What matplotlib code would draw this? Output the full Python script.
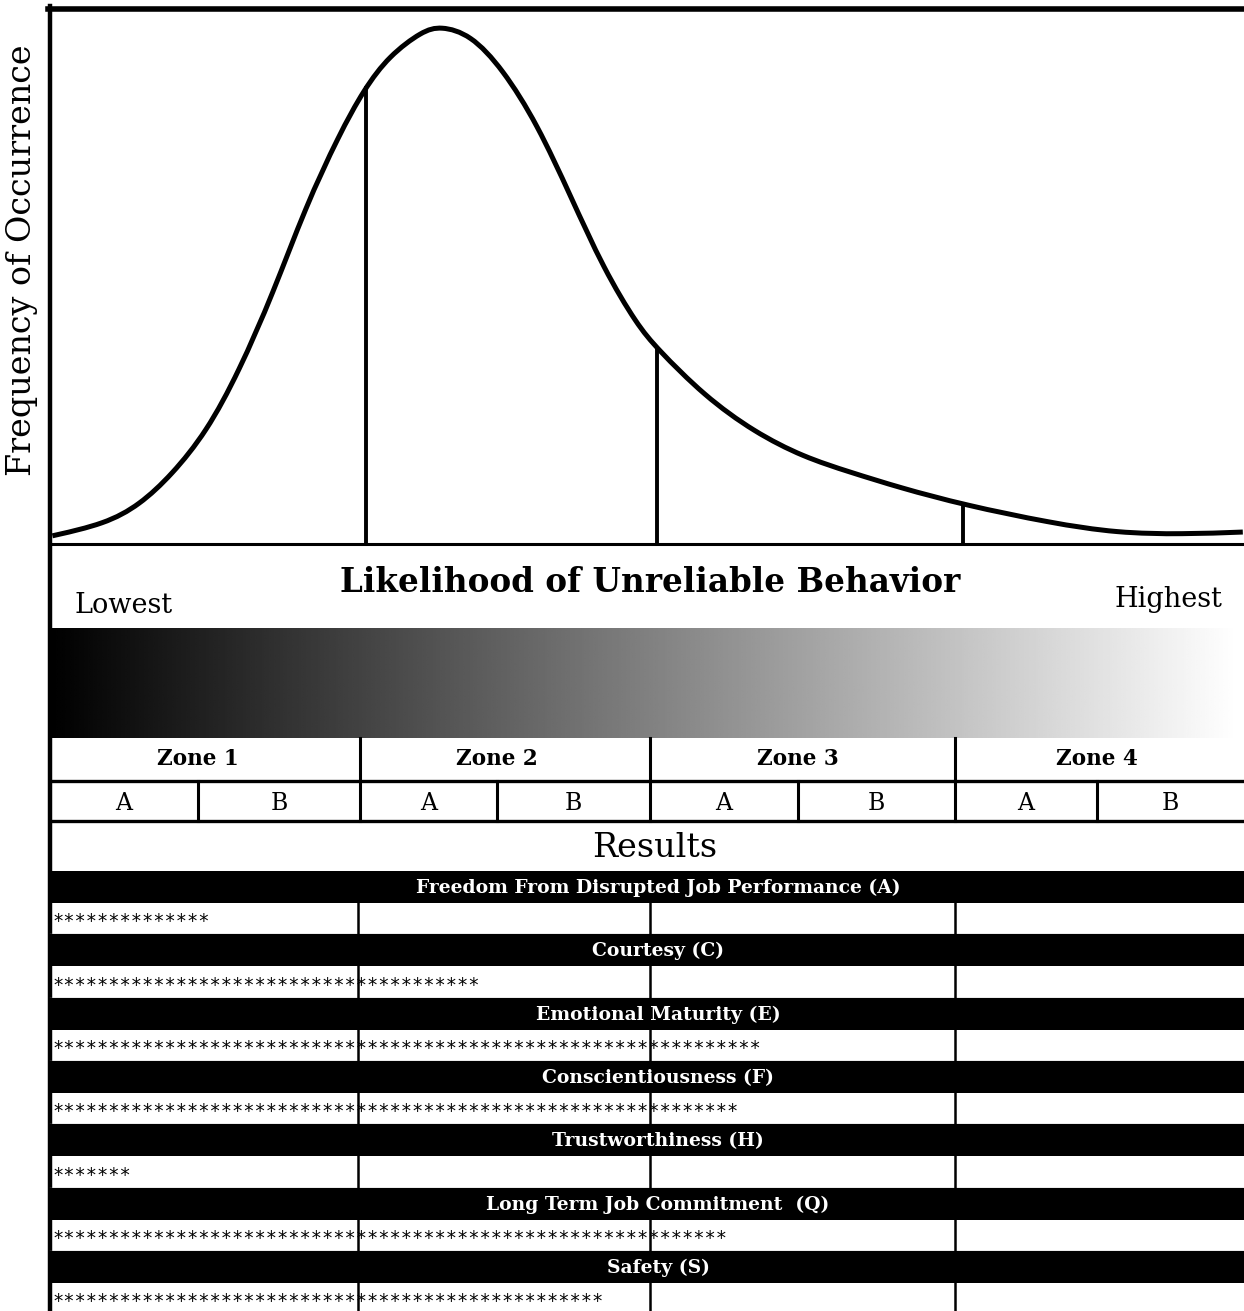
import numpy as np
import matplotlib.pyplot as plt
from matplotlib.path import Path
from matplotlib.patches import PathPatch

# distribution curve (likelihood 0-100, frequency 0-100)
likelihood = [0.2, 4.6, 7.5, 10.2, 13.1, 15.8, 18.7, 21.4, 24.2, 26.3, 28.4, 31.2,
              32.7, 35.2, 37.9, 40.8, 43.6, 46.4, 49.2, 50.8, 54.8, 59.0,
              63.1, 67.0, 71.2, 76.6, 83.8, 89.4, 94.9, 99.9]
frequency = [1.7, 3.9, 7.4, 13.0, 20.9, 32.0, 46.7, 62.6, 75.9, 84.4, 90.6, 95.2,
             96.1, 94.6, 88.2, 78.0, 64.6, 51.0, 40.7, 36.5, 27.6, 20.9,
             16.3, 13.5, 10.6, 7.4, 4.1, 2.2, 2.0, 2.4]
cut_points = [26.5, 50.8, 76.5]

zones = ['Zone 1', 'Zone 2', 'Zone 3', 'Zone 4']
sub_zones = ['A', 'B']
scales = ['Freedom From Disrupted Job Performance (A)', 'Courtesy (C)',
          'Emotional Maturity (E)', 'Conscientiousness (F)', 'Trustworthiness (H)',
          'Long Term Job Commitment  (Q)', 'Safety (S)']
stars = [14, 38, 63, 61, 7, 60, 49]

W, H = 1244, 1311
SERIF = 'DejaVu Serif'

fig = plt.figure(figsize=(W / 100, H / 100), dpi=100)

# layout axes in pixel units
ax = fig.add_axes([0, 0, 1, 1])
ax.set_xlim(0, W)
ax.set_ylim(H, 0)
ax.axis('off')

# curve axes
axc = fig.add_axes([50 / W, (H - 545) / H, 1194 / W, 540 / H])
axc.set_xlim(0, 100)
axc.set_ylim(0, 100)
axc.axis('off')
axc.patch.set_alpha(0)

# smooth line through the read points (cubic b-spline drawn as bezier segments)
pts = np.column_stack([likelihood, frequency])
cp = np.vstack([pts[0], pts[0], pts, pts[-1], pts[-1]])
verts = [pts[0]]
codes = [Path.MOVETO]
for i in range(1, len(cp) - 2):
    a, b, c, d = cp[i - 1], cp[i], cp[i + 1], cp[i + 2]
    verts += [(2 * b + c) / 3, (b + 2 * c) / 3, (b + 4 * c + d) / 6]
    codes += [Path.CURVE4] * 3
axc.add_patch(PathPatch(Path(verts, codes), fill=False, edgecolor='black', lw=3.6,
                        clip_on=False, capstyle='butt'))
for c in cut_points:
    axc.vlines(c, 0, np.interp(c, likelihood, frequency), color='black', lw=2.8)

# frame
ax.plot([50, 50], [6, H], color='black', lw=3.2)
ax.plot([48, W], [9, 9], color='black', lw=4)
ax.plot([50, W], [544, 544], color='black', lw=2.2)

ax.text(22, 260, 'Frequency of Occurrence', rotation=90, ha='center', va='center',
        fontsize=24, family=SERIF)

# title row
ax.text(650, 592, 'Likelihood of Unreliable Behavior', ha='center', va='baseline',
        fontsize=23.5, fontweight='bold', family=SERIF)
ax.text(75, 613, 'Lowest', ha='left', va='baseline', fontsize=19.5, family=SERIF)
ax.text(1222, 607, 'Highest', ha='right', va='baseline', fontsize=19.5, family=SERIF)

# gradient bar
grad = np.linspace(0, 1, 512).reshape(1, -1)
ax.imshow(grad, cmap='gray', aspect='auto', extent=[50, 1236, 738, 628],
          interpolation='bilinear', zorder=1)

# zone rows
zone_edges = [50, 360, 650, 955, W]
sub_edges = [198, 497, 798, 1097]
for x in zone_edges[1:-1]:
    ax.plot([x, x], [738, 821], color='black', lw=2.2)
for x in sub_edges:
    ax.plot([x, x], [781, 821], color='black', lw=2.2)
ax.plot([50, W], [781, 781], color='black', lw=2.4)
ax.plot([50, W], [821, 821], color='black', lw=2.4)
for i, z in enumerate(zones):
    ax.text(sub_edges[i], 759, z, ha='center', va='center', fontsize=15.5,
            fontweight='bold', family=SERIF)
    left, right = zone_edges[i], zone_edges[i + 1]
    for j, s in enumerate(sub_zones):
        lo = left if j == 0 else sub_edges[i]
        hi = sub_edges[i] if j == 0 else right
        ax.text((lo + hi) / 2, 803, s, ha='center', va='center', fontsize=17,
                family=SERIF)

ax.text(655, 848, 'Results', ha='center', va='center', fontsize=24, family=SERIF)

# results bands
band_top = 871
period = 63.3
band_h = 32
for k, (name, n) in enumerate(zip(scales, stars)):
    y0 = band_top + k * period
    ax.fill_between([48, W], y0, y0 + band_h, color='black', lw=0, zorder=2)
    ax.text(658, y0 + band_h / 2 + 1, name, ha='center', va='center', fontsize=13.5,
            fontweight='bold', color='white', family=SERIF, zorder=3)
    r0, r1 = y0 + band_h, y0 + period
    ax.plot([50, W], [r1, r1], color='#999999', lw=1)
    for x in [358, 650, 955]:
        ax.plot([x, x], [r0, r1], color='black', lw=1.8, zorder=2)
    ax.text(52, r0 + 19, '*' * n, ha='left', va='center', fontsize=13.5,
            family='DejaVu Sans Mono', zorder=3)

fig.savefig('out.png', dpi=100)
